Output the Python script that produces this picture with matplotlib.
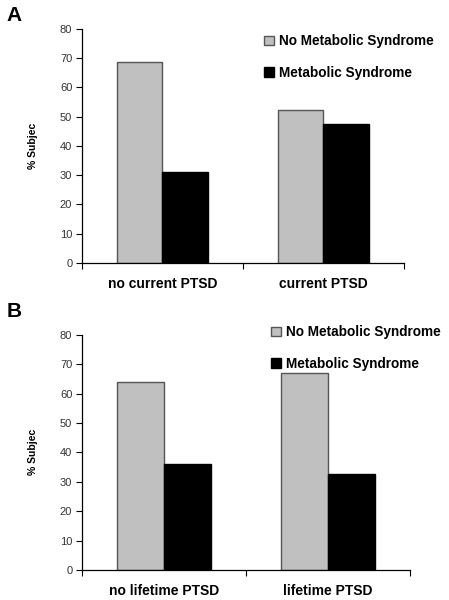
import matplotlib
matplotlib.use("Agg")
import matplotlib.pyplot as plt
import numpy as np

plt.rcParams['font.family'] = ['Liberation Sans', 'DejaVu Sans']

series_names = ['No Metabolic Syndrome', 'Metabolic Syndrome']
cats_a = ['no current PTSD', 'current PTSD']
no_mets_a = [68.7, 52.2]
mets_a = [31.1, 47.5]
cats_b = ['no lifetime PTSD', 'lifetime PTSD']
no_mets_b = [63.9, 67.1]
mets_b = [36.1, 32.6]
yticks = [0, 10, 20, 30, 40, 50, 60, 70, 80]

GRAY = '#c0c0c0'


def draw_panel(fig, ax, cats, vals1, vals2, letter, letter_y, leg_xy):
    x = np.arange(len(cats))
    w = 0.285
    h1 = ax.bar(x - w / 2, vals1, w, color=GRAY, edgecolor='#555555', linewidth=1.0, label=series_names[0])
    h2 = ax.bar(x + w / 2, vals2, w, color='black', edgecolor='black', linewidth=1.0, label=series_names[1])
    ax.set_xlim(-0.5, len(cats) - 0.5)
    ax.set_ylim(0, 80)
    ax.set_yticks(yticks)
    ax.tick_params(axis='y', labelsize=8, labelcolor='#333333', length=4, width=0.8, pad=3)
    ax.set_xticks(x)
    ax.set_xticklabels(cats, fontsize=10, fontweight='bold')
    ax.tick_params(axis='x', length=0, pad=10)
    ax.set_xticks(np.arange(-0.5, len(cats)), minor=True)
    ax.tick_params(axis='x', which='minor', length=4, width=0.8)
    for s in ['top', 'right']:
        ax.spines[s].set_visible(False)
    for s in ['left', 'bottom']:
        ax.spines[s].set_linewidth(0.9)
    ax.set_ylabel('% Subjec', fontsize=7.5, fontweight='bold', labelpad=16)
    fig.text(0.014, letter_y, letter, fontsize=15, fontweight='bold', va='top', ha='left')
    leg = ax.legend(handles=[h1, h2], loc='upper left', bbox_to_anchor=leg_xy,
                    bbox_transform=fig.transFigure, frameon=False, fontsize=9.8,
                    handlelength=0.7, handleheight=0.7, handletextpad=0.4,
                    labelspacing=1.3, borderpad=0, borderaxespad=0)
    for t in leg.get_texts():
        t.set_fontweight('bold')


fig = plt.figure(figsize=(4.49, 6.0), dpi=100)
ax_a = fig.add_axes([0.1826, 0.5617, 0.7171, 0.39])
ax_b = fig.add_axes([0.1826, 0.05, 0.7305, 0.3922])

draw_panel(fig, ax_a, cats_a, no_mets_a, mets_a, 'A', 0.99, (0.588, 0.943))
draw_panel(fig, ax_b, cats_b, no_mets_b, mets_b, 'B', 0.497, (0.604, 0.458))

fig.savefig('out.png', dpi=100)
